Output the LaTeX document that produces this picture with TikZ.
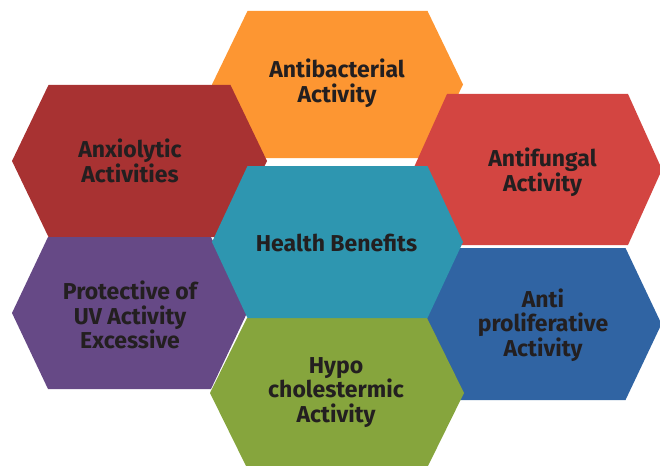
\documentclass[tikz,border=0pt]{standalone}
\usepackage{fontspec}
\setmainfont{Fira Sans}
\definecolor{cOrange}{HTML}{FD9632}
\definecolor{cDarkRed}{HTML}{A83232}
\definecolor{cRed}{HTML}{D34541}
\definecolor{cTeal}{HTML}{2E96B0}
\definecolor{cBlue}{HTML}{3064A3}
\definecolor{cPurple}{HTML}{664986}
\definecolor{cGreen}{HTML}{86A53D}
\definecolor{cText}{HTML}{231F20}
\newcommand\myhex[6]{%
  \fill[#1] ({#2-#4},{#3}) -- ({#2-#5},{#3-#6}) -- ({#2+#5},{#3-#6}) --
    ({#2+#4},{#3}) -- ({#2+#5},{#3+#6}) -- ({#2-#5},{#3+#6}) -- cycle;}
\tikzset{
  lbl/.style={text=cText, font=\fontsize{23}{24.5}\selectfont\bfseries, align=center, inner sep=0pt}
}
\begin{document}
\begin{tikzpicture}[x=1pt,y=-1pt]
\useasboundingbox (0,0) rectangle (660,465);
\begin{scope}
\clip (0,0) rectangle (660,465);
% orange
\myhex{cOrange}{337.5}{84.5}{125.5}{90}{73.5}
% antifungal
\myhex{cRed}{537.5}{169.5}{124.5}{90.5}{75.5}
% anxiolytic
\myhex{cDarkRed}{139.5}{161}{127.5}{91}{76}
% anti proliferative
\myhex{cBlue}{541.5}{324}{120}{84}{76}
% protective
\myhex{cPurple}{129.5}{313}{117.5}{81.5}{76}
% hypo
\myhex{cGreen}{337}{393}{127}{90}{75}
% health
\myhex{cTeal}{337.5}{242}{125.5}{90}{76}
\end{scope}
\node[lbl] (antibac) at (337,83) {Antibacterial\\Activity};
\node[lbl] (anxio) at (130,161) {Anxiolytic\\Activities};
\node[lbl] (antifun) at (542.5,172) {Antifungal\\Activity};
\node[lbl] (health) at (336.5,243) {Health Benefits};
\node[lbl] (protect) at (130,315) {Protective of\\UV Activity\\Excessive};
\node[lbl] (antipro) at (543,325) {Anti\\proliferative\\Activity};
\node[lbl] (hypo) at (336,392.5) {Hypo\\cholestermic\\Activity};
\end{tikzpicture}
\end{document}
